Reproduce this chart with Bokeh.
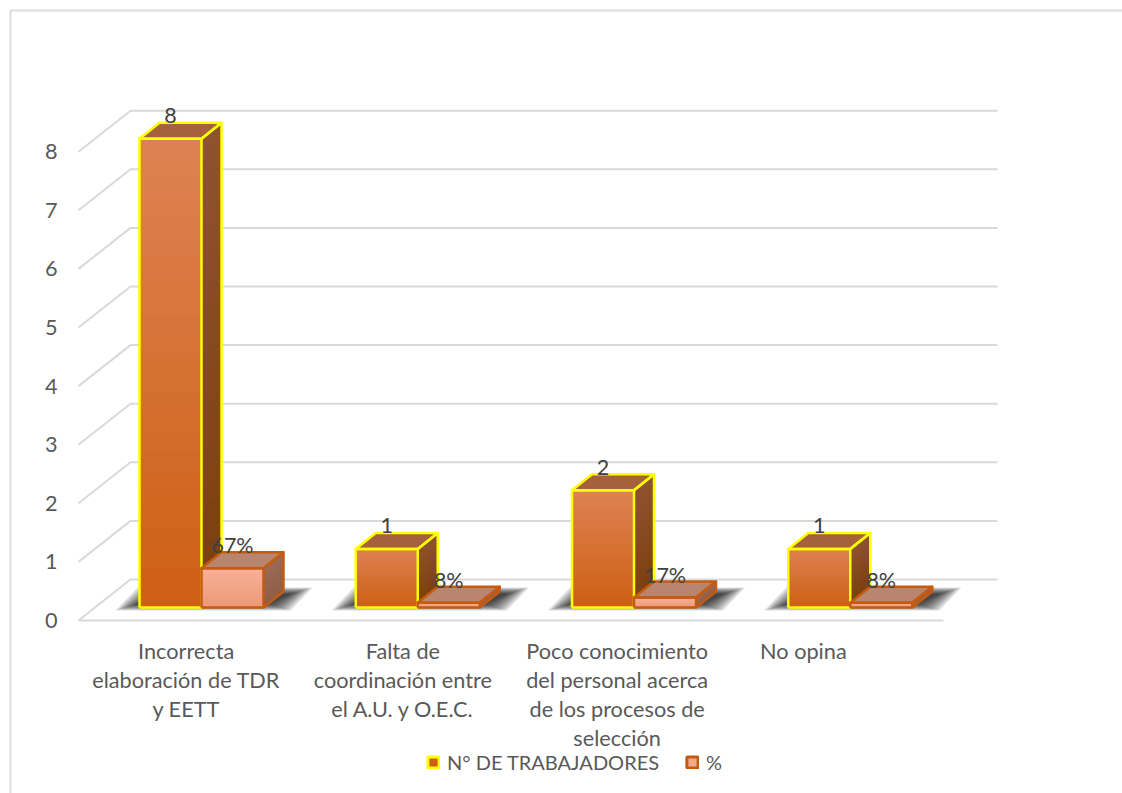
from bokeh.plotting import figure
from bokeh.models import Range1d, FixedTicker, Legend, LegendItem, ColumnDataSource
from bokeh.core.properties import value
from bokeh.embed import file_html
from bokeh.resources import INLINE

categories = ["Incorrecta\nelaboración de TDR\ny EETT",
              "Falta de\ncoordinación entre\nel A.U. y O.E.C.",
              "Poco conocimiento\ndel personal acerca\nde los procesos de\nselección",
              "No opina"]
trabajadores = [8, 1, 2, 1]
porcentaje = [0.67, 0.08, 0.17, 0.08]
porcentaje_labels = ["67%", "8%", "17%", "8%"]
series_names = ["N° DE TRABAJADORES", "%"]
y_ticks = [0, 1, 2, 3, 4, 5, 6, 7, 8]

FONT = "Lato"
W, H = 1122, 793
PX_X, PX_Y = 216.25, 58.6          # pixels per category / per unit
X0, Y0 = 78, 620                   # figure pixel of the floor's front-left corner
px = lambda d: d / PX_X
py = lambda d: d / PX_Y

p = figure(width=W, height=H, output_backend="svg", toolbar_location=None,
           x_range=Range1d(-X0 / PX_X, (W - X0) / PX_X),
           y_range=Range1d(-(H - Y0) / PX_Y, Y0 / PX_Y),
           min_border=0, outline_line_color=None, background_fill_color="white")
p.grid.visible = False

# chart frame: left and top edges only, running off the picture
xl, xr = px(10 - 78), px(1122 - 78)
yt, yb = py(620 - 10), py(620 - 793)
p.line([xl, xl, xr], [yb, yt, yt], line_color="#DDDDDD", line_width=2)

# walls and floor
GRID = "#D9D9D9"
wall_dx, wall_dy = px(52), py(41)
wall_right = px(997 - 78)
for v in y_ticks:
    p.line([0, wall_dx, wall_right], [v, v + wall_dy, v + wall_dy], line_color=GRID, line_width=2)
p.line([0, 4], [0, 0], line_color=GRID, line_width=2)

BAR_W = px(62)
DEPTH_X, DEPTH_Y = px(20), py(16)
BASE = py(13)
FIRST = px(61)


def mix(a, b, t):
    ca = [int(a[i:i + 2], 16) for i in (1, 3, 5)]
    cb = [int(b[i:i + 2], 16) for i in (1, 3, 5)]
    return "#%02x%02x%02x" % tuple(round(x + (y - x) * t) for x, y in zip(ca, cb))


def shadow(x):
    # soft shadow on the floor behind a category's two bars
    n = 9
    skew = px(22)
    for k in range(n):
        ix, iy = px(k * 2.6), py(k * 0.8)
        x1, x2 = x - px(24) + ix, x + 2 * BAR_W + px(27) - ix
        y1, y2 = BASE - py(3) + iy, BASE + py(20) - iy
        p.patch([x1, x2, x2 + skew, x1 + skew], [y1, y1, y2, y2],
                fill_color="#000000", fill_alpha=0.13, line_color=None)


def bar(x, v, c):
    y0, y1 = BASE, BASE + v
    n = 24
    # painted from the top band down, each band reaching the base, so no seams show
    for k in range(n, 0, -1):
        t = (k - 1) / (n - 1)
        h = y0 + v * k / n
        p.patch([x + BAR_W, x + BAR_W + DEPTH_X, x + BAR_W + DEPTH_X, x + BAR_W],
                [y0, y0 + DEPTH_Y, h + DEPTH_Y, h],
                fill_color=mix(c["side_bottom"], c["side_top"], t), line_color=None)
    for k in range(n, 0, -1):
        t = (k - 1) / (n - 1)
        p.quad(left=x, right=x + BAR_W, bottom=y0, top=y0 + v * k / n,
               fill_color=mix(c["bottom"], c["top"], t), line_color=None)
    p.patch([x, x + BAR_W, x + BAR_W + DEPTH_X, x + DEPTH_X],
            [y1, y1, y1 + DEPTH_Y, y1 + DEPTH_Y],
            fill_color=c["lid"], line_color=c["line"], line_width=2.5, line_join="round")
    p.line([x + BAR_W, x + BAR_W + DEPTH_X, x + BAR_W + DEPTH_X, x + BAR_W],
           [y1, y1 + DEPTH_Y, y0 + DEPTH_Y, y0], line_color=c["line"], line_width=2.5, line_join="round")
    p.line([x, x + BAR_W, x + BAR_W, x, x], [y0, y0, y1, y1, y0],
           line_color=c["line"], line_width=2.5, line_join="round")


S1 = dict(top="#DE8152", bottom="#CD6014", side_top="#8F5230", side_bottom="#7B3F0C",
          lid="#A6603B", line="#FFFF00")
S2 = dict(top="#F8B098", bottom="#EC9A78", side_top="#9C6A55", side_bottom="#8F5F48",
          lid="#B8866F", line="#C55A11")

for i in range(len(categories)):
    shadow(i + FIRST)
for i, (a, b) in enumerate(zip(trabajadores, porcentaje)):
    bar(i + FIRST, a, S1)
    bar(i + FIRST + BAR_W, b, S2)

# data labels
label_src1 = ColumnDataSource(dict(
    x=[i + FIRST + BAR_W / 2 for i in range(4)],
    y=[v + BASE for v in trabajadores],
    t=[str(v) for v in trabajadores]))
label_src2 = ColumnDataSource(dict(
    x=[i + FIRST + BAR_W * 1.5 for i in range(4)],
    y=[v + BASE for v in porcentaje],
    t=porcentaje_labels))
for s in (label_src1, label_src2):
    p.text("x", "y", text="t", source=s, text_align="center", text_baseline="alphabetic",
           y_offset=-23, text_font=value(FONT), text_font_size="21.5px", text_color="#404040")

# axes, fixed inside the frame
x_pos = [0.5 + px(-0.5), 1.5, 2.5 - px(2), 3.5 - px(32)]
p.xaxis.fixed_location = 0
p.xaxis.ticker = FixedTicker(ticks=x_pos)
p.xaxis.major_label_overrides = dict(zip(x_pos, categories))
p.xaxis.axis_line_color = None
p.xaxis.major_tick_line_color = None
p.xaxis.minor_tick_line_color = None
p.xaxis.major_label_standoff = 11
p.xaxis.major_label_text_font = FONT
p.xaxis.major_label_text_font_size = "21.7px"
p.xaxis.major_label_text_color = "#595959"
p.xaxis.major_label_text_line_height = 1.12

p.yaxis.fixed_location = px(-11)
p.yaxis.ticker = FixedTicker(ticks=y_ticks)
p.yaxis.axis_line_color = None
p.yaxis.major_tick_line_color = None
p.yaxis.minor_tick_line_color = None
p.yaxis.major_label_standoff = 4
p.yaxis.major_label_text_font = FONT
p.yaxis.major_label_text_font_size = "21.7px"
p.yaxis.major_label_text_color = "#595959"

# legend
far = -50
r1 = p.quad(left=[far], right=[far], bottom=[far], top=[far], fill_color="#CD6014", line_color="#FFFF00", line_width=3)
r2 = p.quad(left=[far], right=[far], bottom=[far], top=[far], fill_color="#F4A98C", line_color="#C55A11", line_width=3)
legend = Legend(items=[LegendItem(label=series_names[0], renderers=[r1]),
                       LegendItem(label=series_names[1], renderers=[r2])],
                orientation="horizontal", location=(426, 19), border_line_color=None,
                background_fill_alpha=0, label_text_font=FONT, label_text_font_size="20px",
                label_text_color="#595959", glyph_width=14, glyph_height=14, spacing=26,
                label_standoff=7, padding=0, margin=0)
p.add_layout(legend)

open("out.html", "w").write(file_html(p, INLINE))
